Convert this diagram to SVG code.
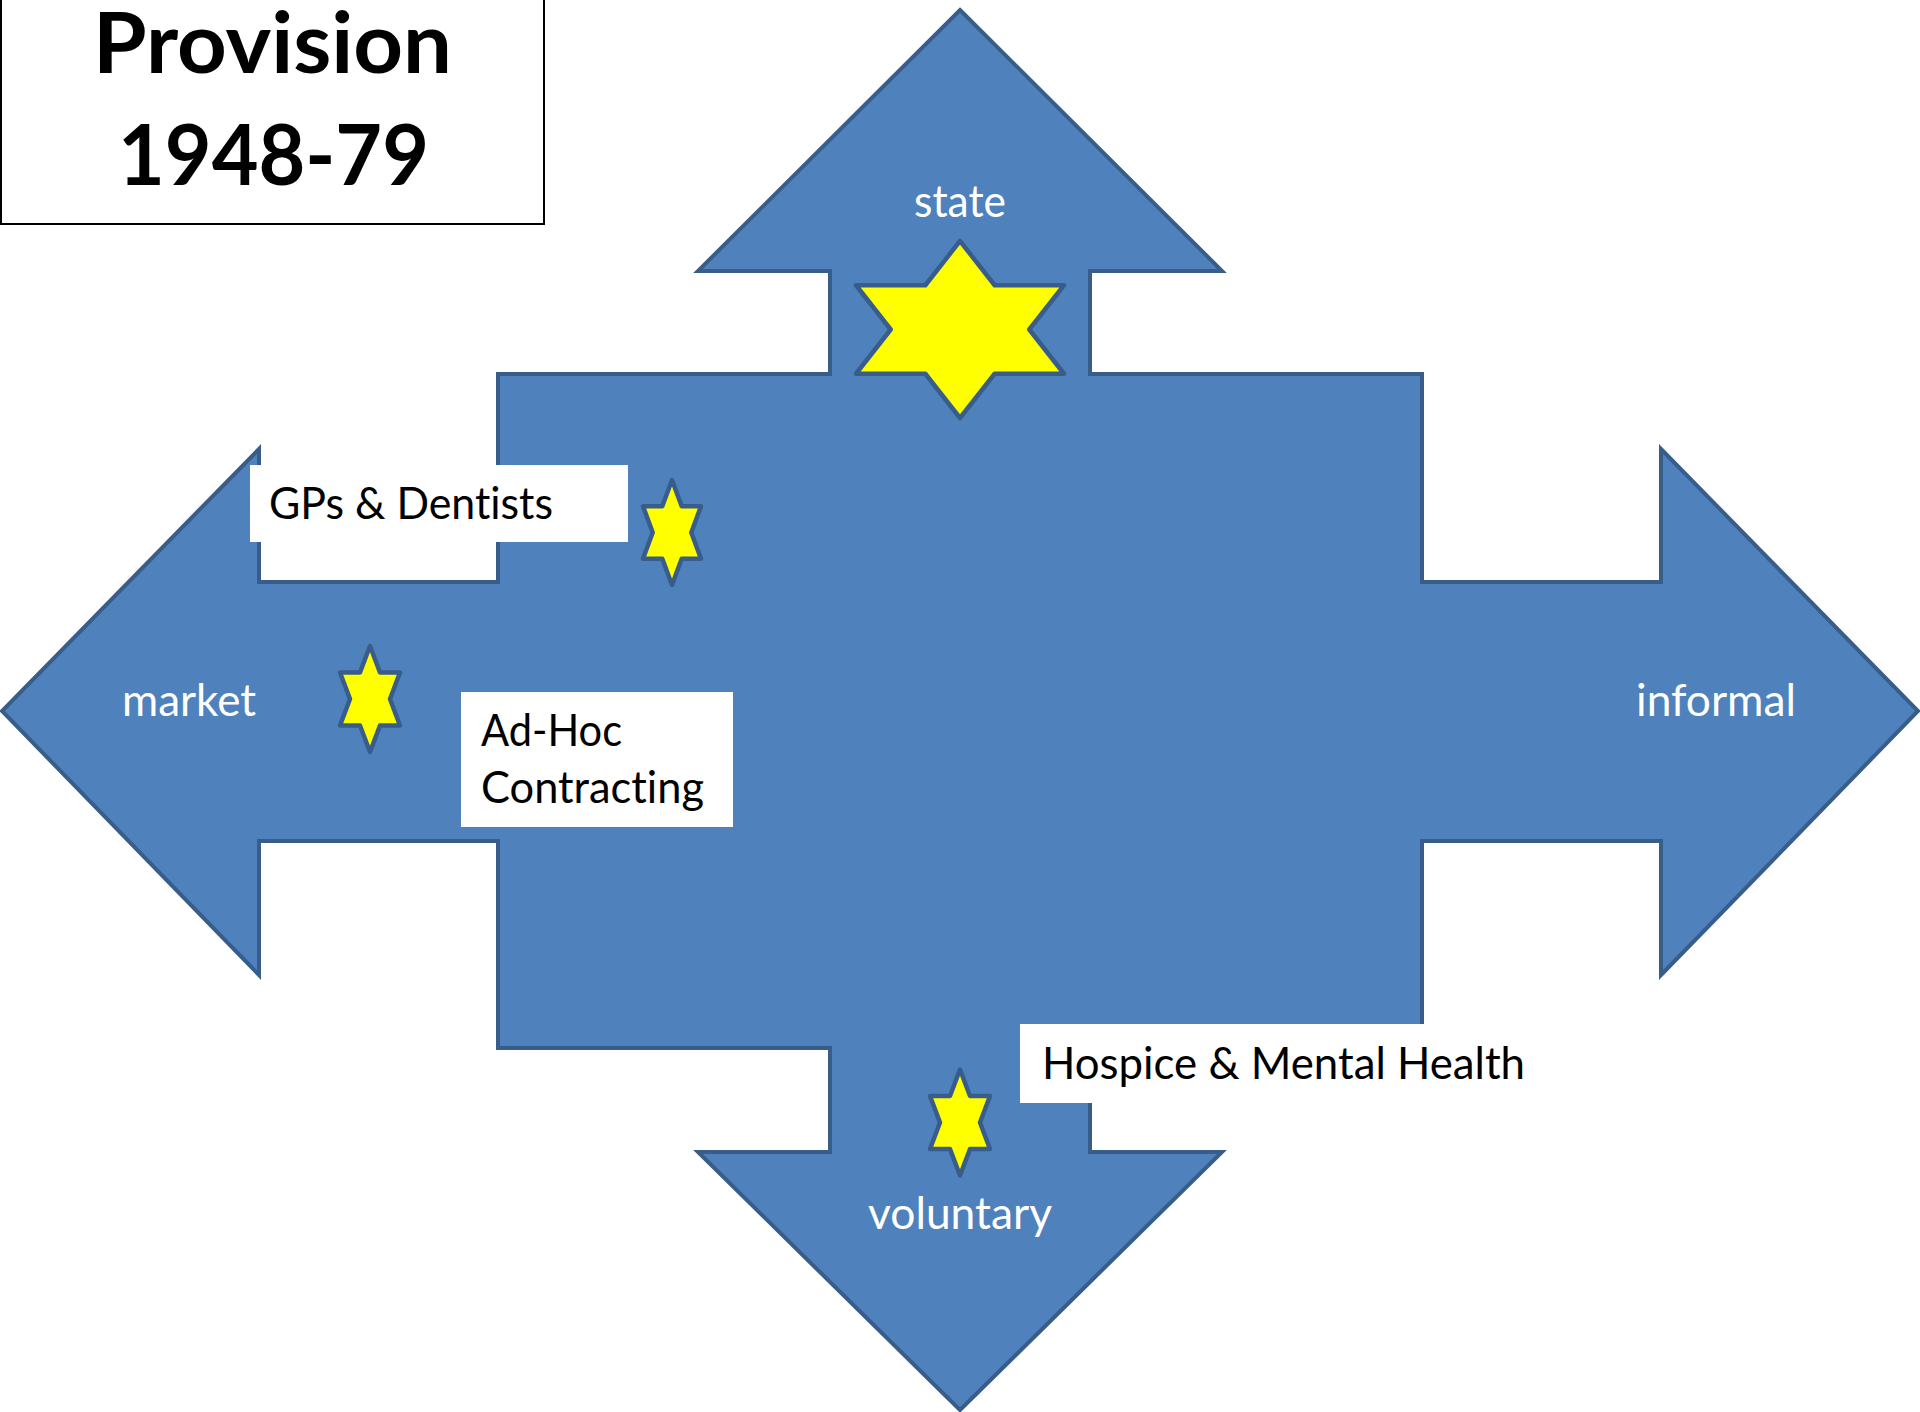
<svg xmlns="http://www.w3.org/2000/svg" width="1920" height="1412" viewBox="0 0 1920 1412">
  <style>
    .arrow { fill: #4f81bd; stroke: #385d8a; stroke-width: 4; stroke-linejoin: miter; }
    .star { fill: #ffff00; stroke: #385d8a; stroke-width: 4.5; stroke-linejoin: round; }
    .box { fill: #ffffff; stroke: none; }
    .lbl { font-family: Lato, "Open Sans", sans-serif; font-size: 44px; font-variant-ligatures: none; }
    .white { fill: #ffffff; }
    .black { fill: #000000; }
    .title { font-family: Lato, "Liberation Sans", sans-serif; font-weight: bold; font-size: 84px; fill: #000000; font-variant-ligatures: none; }
  </style>
  <rect x="0" y="0" width="1920" height="1412" fill="#ffffff"/>

  <g id="title">
    <rect x="1" y="-3" width="543" height="227" fill="#ffffff" stroke="#000000" stroke-width="2"/>
    <text class="title" x="93" y="73" textLength="359" lengthAdjust="spacingAndGlyphs">Provision</text>
    <text class="title" x="118" y="185" textLength="311" lengthAdjust="spacingAndGlyphs">1948-79</text>
  </g>

  <g id="quad-arrow">
    <path class="arrow" d="M960,10 L1222,271 L1090,271 L1090,374 L1422,374 L1422,582 L1661,582 L1661,449 L1918,711 L1661,975 L1661,841 L1422,841 L1422,1048 L1090,1048 L1090,1152 L1222,1152 L960,1410 L698,1152 L830,1152 L830,1048 L498,1048 L498,841 L259,841 L259,975 L2,711 L259,449 L259,582 L498,582 L498,374 L830,374 L830,271 L698,271 Z"/>
    <text class="lbl white" x="914" y="217" textLength="92" lengthAdjust="spacingAndGlyphs">state</text>
    <text class="lbl white" x="122" y="716" textLength="134" lengthAdjust="spacingAndGlyphs">market</text>
    <text class="lbl white" x="1636" y="716" textLength="160" lengthAdjust="spacingAndGlyphs">informal</text>
    <text class="lbl white" x="868" y="1229" textLength="184" lengthAdjust="spacingAndGlyphs">voluntary</text>
  </g>

  <g id="star-state">
    <polygon class="star" points="960,241 994.7,285.25 1064,285.25 1029.3,329.5 1064,373.75 994.7,373.75 960,418 925.3,373.75 856,373.75 890.7,329.5 856,285.25 925.3,285.25"/>
  </g>

  <g id="gps-dentists">
    <rect class="box" x="250" y="465" width="378" height="77"/>
    <text class="lbl black" x="269" y="519" textLength="284" lengthAdjust="spacingAndGlyphs">GPs &amp; Dentists</text>
  </g>

  <g id="star-gps">
    <polygon class="star" points="672,480 681.7,506.25 701,506.25 691.3,532.5 701,558.75 681.7,558.75 672,585 662.3,558.75 643,558.75 652.7,532.5 643,506.25 662.3,506.25"/>
  </g>

  <g id="star-market">
    <polygon class="star" points="370,646 380,672.5 400,672.5 390,699 400,725.5 380,725.5 370,752 360,725.5 340,725.5 350,699 340,672.5 360,672.5"/>
  </g>

  <g id="ad-hoc-contracting">
    <rect class="box" x="461" y="692" width="272" height="135"/>
    <text class="lbl black" x="481" y="746" textLength="141" lengthAdjust="spacingAndGlyphs">Ad-Hoc</text>
    <text class="lbl black" x="481" y="803" textLength="223" lengthAdjust="spacingAndGlyphs">Contracting</text>
  </g>

  <g id="star-voluntary">
    <polygon class="star" points="960,1069.5 970,1096 990,1096 980,1122.5 990,1149 970,1149 960,1175.5 950,1149 930,1149 940,1122.5 930,1096 950,1096"/>
  </g>

  <g id="hospice-mental-health">
    <rect class="box" x="1020" y="1024" width="525" height="79"/>
    <text class="lbl black" x="1042" y="1079" textLength="483" lengthAdjust="spacingAndGlyphs">Hospice &amp; Mental Health</text>
  </g>
</svg>
